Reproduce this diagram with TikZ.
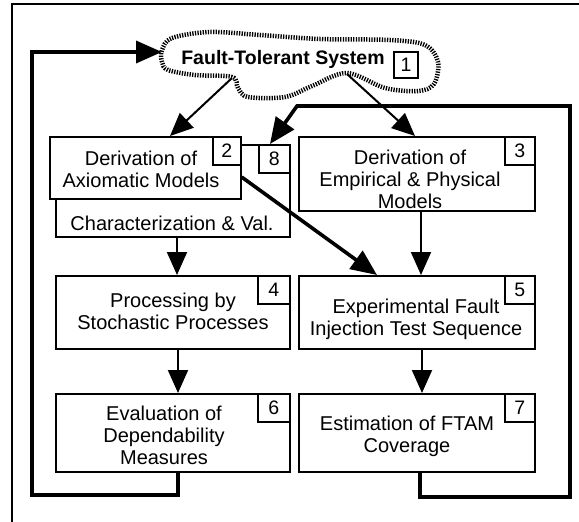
\documentclass[tikz,border=0pt]{standalone}
\usepackage{fontspec}
\setmainfont{Liberation Sans}
\usetikzlibrary{arrows.meta}
\begin{document}
\begin{tikzpicture}[x=1pt,y=-1pt,
  box/.style={draw, line width=1.6pt, fill=white, rectangle, inner sep=0pt, anchor=north west},
  numbox/.style={draw, line width=1.6pt, fill=white, rectangle, inner sep=0pt, anchor=north east,
    minimum height=28pt, font=\fontsize{19.5}{22}\selectfont},
  label/.style={align=center, inner sep=0pt, font=\fontsize{20}{22}\selectfont},
  thinarrow/.style={line width=2pt, -{Triangle[length=23pt,width=20pt]}},
  thickarrow/.style={line width=3.6pt, line join=miter, -{Triangle[length=26pt,width=22pt]}},
  cloudline/.style={line width=4.5pt, dash pattern=on 1.3pt off 1.3pt}
]
\useasboundingbox (0,0) rectangle (579,522);
\clip (0,0) rectangle (579,522);

% outer frame
\draw[line width=1.3pt] (12,540) -- (12,4) -- (600,4);

% system cloud
\draw[cloudline] plot[smooth cycle, tension=0.55] coordinates {
  (162,50) (172,38) (210,32) (260,35) (320,39) (390,40) (425,45) (438,62)
  (434,84) (418,91) (385,88) (347,73) (312,86) (285,97) (248,97) (238,88)
  (232,77) (195,75) (168,70) (162,62)};
\node[inner sep=0pt, font=\fontsize{19.5}{22}\selectfont\bfseries] (ft) at (283,59) {Fault-Tolerant System};
\node[draw, line width=1.8pt, inner sep=0pt, minimum width=24pt, minimum height=26pt,
  font=\fontsize{19.5}{22}\selectfont] (n1) at (406,65) {1};

% boxes
\node[box, minimum width=234pt, minimum height=92pt] (b8) at (55,144) {};
\node[box, minimum width=191pt, minimum height=62pt] (b2) at (49,136) {};
\node[box, minimum width=236pt, minimum height=74pt] (b3) at (298,136) {};
\node[box, minimum width=234pt, minimum height=73pt] (b4) at (55,275) {};
\node[box, minimum width=236pt, minimum height=73pt] (b5) at (298,275) {};
\node[box, minimum width=234pt, minimum height=78pt] (b6) at (55,393) {};
\node[box, minimum width=236pt, minimum height=78pt] (b7) at (298,393) {};

% number tags
\node[numbox, minimum width=28pt] (n2) at (b2.north east) {2};
\node[numbox, minimum width=31pt] (n8) at (b8.north east) {8};
\node[numbox, minimum width=30pt] (n3) at (b3.north east) {3};
\node[numbox, minimum width=32pt] (n4) at (b4.north east) {4};
\node[numbox, minimum width=30pt] (n5) at (b5.north east) {5};
\node[numbox, minimum width=32pt] (n6) at (b6.north east) {6};
\node[numbox, minimum width=30pt] (n7) at (b7.north east) {7};

% box texts
\node[label] (t2) at (141,169) {Derivation of\\Axiomatic Models};
\node[label] (t8) at (172,223) {Characterization \& Val.};
\node[label] (t3) at (410,179) {Derivation of\\Empirical \& Physical\\Models};
\node[label] (t4) at (173,311) {Processing by\\Stochastic Processes};
\node[label] (t5) at (416,319) {Experimental Fault\\Injection Test Sequence};
\node[label] (t6) at (164,435) {Evaluation of\\Dependability\\Measures};
\node[label] (t7) at (407,436) {Estimation of FTAM\\Coverage};

% connector ends on the cloud and loop corners
\coordinate (c1) at (232,78);
\coordinate (c2) at (347,74);
\coordinate (cl) at (162,52);
\coordinate (lb) at (32,495);
\coordinate (rb) at (570,497);
\coordinate (rt) at (297,106);

% flow arrows
\draw[thinarrow] (c1) -- (b2.north -| 170,0);
\draw[thinarrow] (c2) -- (b3.north -| 415,0);
\draw[thinarrow] (b8.south -| 177,0) -- (b4.north -| 177,0);
\draw[thinarrow] (b3.south -| 421,0) -- (b5.north -| 421,0);
\draw[thinarrow] (b4.south -| 178,0) -- (b6.north -| 178,0);
\draw[thinarrow] (b5.south -| 422,0) -- (b7.north -| 422,0);
\draw[thickarrow] (b2.east |- 0,177) -- (b5.north -| 377,0);

% feedback loops
\draw[thickarrow] (b6.south -| 178,0) |- (lb) |- (cl);
\draw[thickarrow] (b7.south -| 420,0) |- (rb) |- (rt) -- (n8.north -| 270,0);
\end{tikzpicture}
\end{document}
